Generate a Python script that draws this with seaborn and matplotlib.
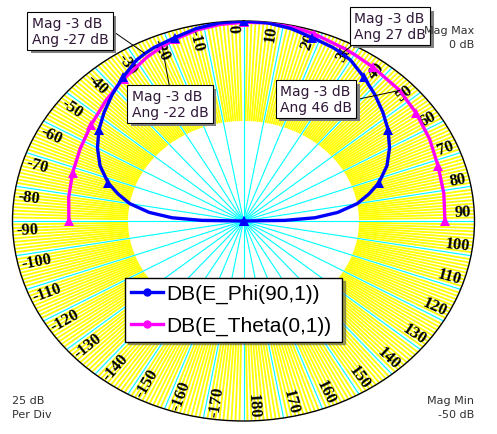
import numpy as np
import matplotlib
matplotlib.use("Agg")
import matplotlib.pyplot as plt
import matplotlib.patheffects as pe
from matplotlib.lines import Line2D
import seaborn as sns

# E-plane / H-plane antenna pattern, dB, angle in degrees (0 = broadside)
phi_ang = [-90, -89, -87, -84, -80, -76, -72, -66, -60, -54, -48, -42, -36, -30, -27, -24,
           -18, -12, -6, 0, 6, 12, 18, 24, 27, 30, 36, 42, 48, 54, 60, 66, 72, 76, 80, 84,
           87, 89, 90]
phi_db = [-60, -41, -34.5, -29.5, -25, -22, -19.2, -16.0, -13.5, -11.3, -9.4, -7.5, -5.6,
          -3.6, -3.0, -2.5, -1.8, -0.8, -0.2, 0.0, -0.2, -0.8, -1.8, -2.5, -3.0, -3.6, -5.6,
          -7.5, -9.4, -11.3, -13.5, -16.0, -19.2, -22, -25, -29.5, -34.5, -41, -60]

theta_ang = [-90, -81, -72, -63, -54, -45, -39, -36, -27, -22, -18, -12, -6, 0, 6, 12, 18,
             27, 30, 36, 46, 54, 63, 72, 81, 90]
theta_db = [-12.2, -11.7, -11.1, -10.3, -9.2, -7.7, -6.6, -6.0, -4.0, -3.0, -2.2, -1.2, -0.6,
            -0.3, -0.2, -0.3, -0.75, -1.7, -1.95, -2.4, -3.0, -3.9, -4.8, -5.7, -6.1, -6.4]

labels = ["DB(E_Phi(90,1))", "DB(E_Theta(0,1))"]
colors = ["#0000FF", "#FF00FF"]

# -3 dB markers
mk_ang = [-27, -22, 27, 46]
mk_mag = [-3, -3, -3, -3]

mag_max, mag_min, per_div = 0, -50, 25
tick_deg = list(range(-170, 181, 10))

W, H = 497, 435
fig = plt.figure(figsize=(W / 100, H / 100), dpi=100)
ax = fig.add_axes([12.5 / W, 13 / H, 462 / W, 400 / H], projection="polar")
ax.set_aspect("auto")
ax.set_theta_zero_location("N")
ax.set_theta_direction(-1)
ax.set_ylim(mag_min, mag_max)
ax.set_xticks([])
ax.set_yticks([])
ax.grid(False)
ax.spines["polar"].set_linewidth(1.0)
ax.spines["polar"].set_color("black")

# grid: dense yellow (1 deg) in the outer ring, cyan spokes every 10 deg
fine = np.deg2rad([d for d in range(0, 360) if d % 10])
coarse = np.deg2rad(np.arange(0, 360, 10))
ax.vlines(fine, mag_max - per_div, mag_max, colors="#FFFF00", lw=1.3, zorder=1)
ax.vlines(coarse, mag_min, mag_max, colors="#00FFFF", lw=0.8, zorder=1.1)

# angle labels along the radius
for d in tick_deg:
    th = np.deg2rad(d - 2.7)
    p0 = ax.transData.transform((th, -40))
    p1 = ax.transData.transform((th, -10))
    rot = np.degrees(np.arctan2(p1[1] - p0[1], p1[0] - p0[0]))
    ha = "right"
    if rot > 90.5 or rot < -90.5:
        rot = rot - 180 if rot > 0 else rot + 180
        ha = "left"
    ax.text(th, -0.7, str(d), rotation=rot, rotation_mode="anchor", ha=ha, va="center",
            fontsize=12, fontweight="bold", family="Liberation Serif", zorder=3)

series = [(theta_ang, theta_db, colors[1]), (phi_ang, phi_db, colors[0])]
for ang, db, c in series:
    vals = np.clip(np.array(db, dtype=float), mag_min, mag_max)
    idx = [i for i, a in enumerate(ang) if a % 18 == 0]
    sns.lineplot(x=np.deg2rad(ang), y=vals, ax=ax, color=c, lw=2.4, marker="^",
                 markersize=7, markeredgewidth=0, markevery=idx, sort=False,
                 legend=False, zorder=4)
ax.set_ylim(mag_min, mag_max)
ax.set_xlabel("")
ax.set_ylabel("")

# marker boxes
box_pos = [(70, H - 32), (170, H - 105), (390, H - 27), (316, H - 100)]
rel = [(1, 0.6), (0.5, 1), (0.05, 0), (1, 0.45)]
for a, m, xy, rp in zip(mk_ang, mk_mag, box_pos, rel):
    ann = ax.annotate(f"Mag {m:g} dB\nAng {a:g} dB", xy=(np.deg2rad(a), m),
                      xycoords="data", xytext=xy, textcoords="figure pixels",
                      ha="center", va="center", multialignment="left", fontsize=10,
                      color="#301838", linespacing=1.1,
                      bbox=dict(boxstyle="square,pad=0.3", fc="white", ec="black", lw=0.8),
                      arrowprops=dict(arrowstyle="-", color="black", lw=0.7,
                                      shrinkA=0, shrinkB=0, relpos=rp),
                      zorder=6, annotation_clip=False)
    ann.get_bbox_patch().set_path_effects(
        [pe.SimplePatchShadow(offset=(2.5, -2.5), shadow_rgbFace="#808080", alpha=1),
         pe.Normal()])

# corner texts
corner = dict(fontsize=8, color="#303030", family="DejaVu Sans", linespacing=1.5)
fig.text(474 / W, 1 - 26 / H, f"Mag Max\n{mag_max} dB", ha="right", va="top", **corner)
fig.text(12 / W, 1 - 396 / H, f"{per_div} dB\nPer Div", ha="left", va="top", **corner)
fig.text(474 / W, 1 - 396 / H, f"Mag Min\n{mag_min} dB", ha="right", va="top", **corner)

handles = [Line2D([], [], color=c, lw=2.4, marker="o", markersize=5) for c in colors]
leg = ax.legend(handles, labels, loc="upper left", mode="expand",
                bbox_to_anchor=(125 / W, 1 - 344 / H, 217 / W, 65 / H),
                bbox_transform=fig.transFigure, frameon=True, fancybox=False, shadow=True,
                prop=dict(family="Liberation Sans", size=15), handlelength=1.5,
                handletextpad=0.2, borderpad=0.3, labelspacing=0.6, borderaxespad=0)
leg.get_frame().set_edgecolor("black")
leg.get_frame().set_linewidth(1.0)
leg.set_zorder(7)

fig.savefig("out.png", dpi=100)
